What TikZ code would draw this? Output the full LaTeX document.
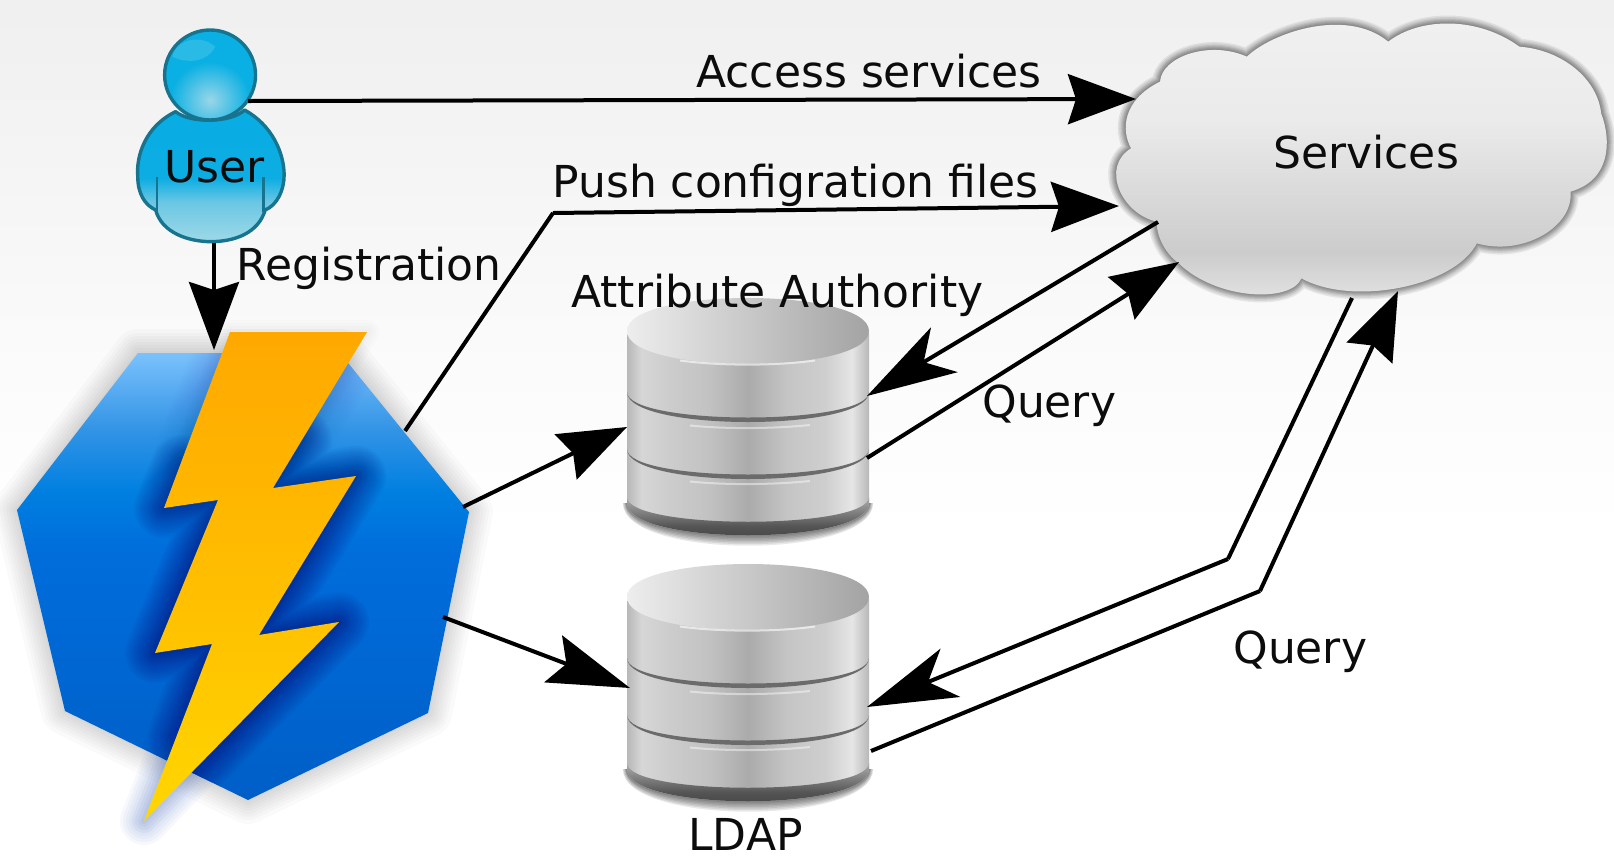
\documentclass[tikz,border=0pt]{standalone}
\usepackage{fontspec}
\setmainfont{DejaVu Sans}
\usetikzlibrary{arrows.meta}
\definecolor{txt}{HTML}{0C0C0C}
\definecolor{usr}{HTML}{17748F}
\definecolor{headblue}{rgb}{.04,.69,.89}
\definecolor{headlight}{rgb}{.6,.84,.91}
\definecolor{glowdark}{rgb}{0,.1,.55}
\definecolor{glowsoft}{rgb}{.1,.3,.75}
% TikZ maps the middle 25bp..75bp of a shading onto the bounding box of the path
\pgfdeclareverticalshading{bgsh}{100bp}{rgb(0bp)=(1,1,1); rgb(44bp)=(1,1,1); rgb(56bp)=(.98,.98,.98); rgb(67bp)=(.955,.955,.955); rgb(75bp)=(.94,.94,.94); rgb(100bp)=(.94,.94,.94)}
\pgfdeclareverticalshading{octsh}{100bp}{rgb(0bp)=(0,.37,.78); rgb(25bp)=(0,.37,.78); rgb(53bp)=(0,.43,.86); rgb(59.5bp)=(0,.5,.88); rgb(66.5bp)=(.2,.58,.9); rgb(75bp)=(.48,.76,.99); rgb(100bp)=(.48,.76,.99)}
\pgfdeclareverticalshading{boltsh}{100bp}{rgb(0bp)=(1,.84,0); rgb(25bp)=(1,.84,0); rgb(45bp)=(1,.76,0); rgb(75bp)=(1,.66,0); rgb(100bp)=(1,.66,0)}
\pgfdeclareverticalshading{cloudsh}{100bp}{rgb(0bp)=(.90,.90,.90); rgb(25bp)=(.90,.90,.90); rgb(34bp)=(.80,.80,.80); rgb(45bp)=(.86,.86,.86); rgb(56bp)=(.92,.92,.92); rgb(75bp)=(.945,.945,.945); rgb(100bp)=(.945,.945,.945)}
\pgfdeclareverticalshading{bodysh}{100bp}{rgb(0bp)=(.62,.85,.91); rgb(25bp)=(.62,.85,.91); rgb(40bp)=(.42,.78,.89); rgb(49bp)=(.05,.68,.89); rgb(75bp)=(.03,.68,.89); rgb(100bp)=(.03,.68,.89)}
\pgfdeclarehorizontalshading{cylsh}{100bp}{rgb(0bp)=(.72,.72,.72); rgb(25bp)=(.72,.72,.72); rgb(28bp)=(.84,.84,.84); rgb(34bp)=(.80,.80,.80); rgb(42bp)=(.76,.76,.76); rgb(50bp)=(.67,.67,.67); rgb(58bp)=(.77,.77,.77); rgb(66bp)=(.81,.81,.81); rgb(71.5bp)=(.90,.90,.90); rgb(75bp)=(.72,.72,.72); rgb(100bp)=(.72,.72,.72)}
\pgfdeclareverticalshading{basesh}{100bp}{rgb(0bp)=(.25,.25,.25); rgb(25bp)=(.25,.25,.25); rgb(45bp)=(.33,.33,.33); rgb(75bp)=(.68,.68,.68); rgb(100bp)=(.68,.68,.68)}
\def\octpath{(138,353) -- (340,353) -- (469,512) -- (428,713) -- (248,800) -- (65,711) -- (17,510) -- cycle}
\def\boltpath{(230,332) -- (367,332) -- (273,488) -- (356,476) -- (259,635) -- (339,622) -- (144,821) -- (212,644) -- (155,653) -- (218,500) -- (164,508) -- cycle}
\def\glowleft{(182,465) -- (164,508) -- (218,500) -- (155,653) -- (212,644) -- (178,735)}
\def\glowright{(302,440) -- (273,488) -- (356,476) -- (259,635) -- (339,622) -- (144,821)}
\def\glowtail{(180,728) -- (144,821) -- (205,758)}
\def\cloudpath{(150,445) .. controls (120,390) and (125,300) .. (235,245)
 .. controls (240,170) and (380,120) .. (490,170)
 .. controls (560,100) and (780,20) .. (905,125)
 .. controls (1000,50) and (1170,50) .. (1290,140)
 .. controls (1420,150) and (1520,240) .. (1530,340)
 .. controls (1560,420) and (1560,540) .. (1440,575)
 .. controls (1450,680) and (1300,770) .. (1165,730)
 .. controls (1100,860) and (800,920) .. (650,835)
 .. controls (620,910) and (400,900) .. (290,790)
 .. controls (250,760) and (225,710) .. (225,665)
 .. controls (120,640) and (60,500) .. (150,445) -- cycle}
\def\bodypath{(510,335) .. controls (420,380) and (395,470) .. (400,530)
 .. controls (400,580) and (420,615) .. (452,630)
 .. controls (470,700) and (550,725) .. (612,725)
 .. controls (680,725) and (750,700) .. (770,630)
 .. controls (805,615) and (825,570) .. (825,525)
 .. controls (825,460) and (790,375) .. (710,330)
 .. controls (670,370) and (550,370) .. (510,335) -- cycle}
\newcommand\dbcyl[1]{%
 \begin{scope}[yshift=#1*-0.5pt]
  \foreach \d in {1,...,7}
   \fill[black,fill opacity=.085] ({627-.6*\d},503) .. controls ({627-.6*\d},{546+2*\d}) and ({869+.6*\d},{546+2*\d}) .. ({869+.6*\d},503) -- cycle;
  \shade[shading=cylsh] (627,333) -- (627,503) .. controls (627,546) and (869,546) .. (869,503) -- (869,333) -- cycle;
  \shade[shading=basesh] (627,497) -- (627,503) .. controls (627,546) and (869,546) .. (869,503) -- (869,497) .. controls (869,530) and (627,530) .. (627,497) -- cycle;
  \fill[black!58] (627,392) .. controls (627,432) and (869,432) .. (869,392) .. controls (869,426) and (627,426) .. (627,392) -- cycle;
  \fill[black!58] (627,449) .. controls (627,489) and (869,489) .. (869,449) .. controls (869,483) and (627,483) .. (627,449) -- cycle;
  \draw[draw=white,draw opacity=.45,line width=1pt] (690,425.5) .. controls (725,429) and (770,429) .. (810,425);
  \draw[draw=white,draw opacity=.45,line width=1pt] (690,481.5) .. controls (725,485) and (770,485) .. (810,481);
  \shade[left color=black!7,right color=black!36] (627,331) .. controls (627,287) and (869,287) .. (869,331) .. controls (869,375) and (627,375) .. (627,331) -- cycle;
  \draw[draw=white,draw opacity=.6,line width=1pt] (680,360.5) .. controls (720,366) and (775,366) .. (815,360.5);
 \end{scope}}
\tikzset{
 port/.style={inner sep=0pt,minimum size=0pt,outer sep=0pt},
 lbl/.style={font=\fontsize{22pt}{26pt}\selectfont,anchor=base west,inner sep=0pt,text=txt},
 conn/.style={line width=2pt,draw=black,-{Stealth[length=34pt,width=25pt,inset=4pt]}},
 connmid/.style={line width=2pt,draw=black,-{Stealth[length=41pt,width=25pt,inset=7pt]}},
 connlong/.style={line width=2pt,draw=black,-{Stealth[length=45pt,width=26pt,inset=12pt]}}
}
\begin{document}
\begin{tikzpicture}[x=0.5pt,y=-0.5pt]
\useasboundingbox (0,0) rectangle (1614,858);
\shade[shading=bgsh] (0,0) rectangle (1614,858);
% body shadow
\foreach \w in {2,5,8,11,14,17,20,24}
 \draw[line width=\w pt,draw=black,draw opacity=.02,line join=round] \octpath;
\shade[shading=octsh] \octpath;
% cloud
\begin{scope}[shift={(1080,0)},xscale=0.3406,yscale=0.3333]
 \foreach \w in {1,2,3,4,5,6.5,8}
  \draw[line width=\w pt,draw=black,draw opacity=.075,line join=round] \cloudpath;
 \shade[shading=cloudsh] \cloudpath;
\end{scope}
% databases
\dbcyl{0}
\dbcyl{266}
% user
\begin{scope}[xscale=0.3444,yscale=0.3333]
 \shade[shading=bodysh] \bodypath;
 \draw[draw=usr,line width=1.7pt,line join=round] \bodypath;
 \draw[draw=usr,line width=1.2pt] (455,530) -- (455,635);
 \draw[draw=usr,line width=1.2pt] (765,530) -- (765,635);
 \begin{scope}
  \clip (610,225) circle [x radius=132,y radius=135];
  \fill[headblue] (610,225) circle [x radius=132,y radius=135];
  \shade[inner color=headlight,outer color=headblue] (610,300) circle [x radius=115,y radius=115];
  \fill[white,opacity=.13] (500,170) .. controls (540,190) and (600,190) .. (625,140) .. controls (580,100) and (510,120) .. (500,170) -- cycle;
 \end{scope}
 \draw[draw=usr,line width=1.7pt] (610,225) circle [x radius=132,y radius=135];
\end{scope}
% ports
\node[port] (userS) at (214,243) {};
\node[port] (octN) at (214,350) {};
\node[port] (userE) at (248,101) {};
\node[port] (cloudA) at (1136,99) {};
\node[port] (octP) at (405,431) {};
\node[port] (pushBend) at (553,213) {};
\node[port] (cloudP) at (1119,206) {};
\node[port] (octAA) at (463,507) {};
\node[port] (aaW) at (627,427) {};
\node[port] (octL) at (443,617) {};
\node[port] (ldapW) at (630,688) {};
\node[port] (cloudOut) at (1158,222) {};
\node[port] (aaE) at (867,396) {};
\node[port] (aaOut) at (867,458) {};
\node[port] (cloudIn) at (1179,262) {};
\node[port] (cloudS) at (1352,298) {};
\node[port] (qBendA) at (1228,559) {};
\node[port] (ldapE) at (867,707) {};
\node[port] (ldapOut) at (871,751) {};
\node[port] (qBendB) at (1260,591) {};
\node[port] (cloudSin) at (1398,291) {};
% connectors
\draw[conn] (userS) -- (octN);
\draw[conn] (userE) -- (cloudA);
\draw[conn] (octP) -- (pushBend) -- (cloudP);
\draw[conn] (octAA) -- (aaW);
\draw[connmid] (octL) -- (ldapW);
\draw[connlong] (cloudOut) -- (aaE);
\draw[conn] (aaOut) -- (cloudIn);
\draw[connlong] (cloudS) -- (qBendA) -- (ldapE);
\draw[conn] (ldapOut) -- (qBendB) -- (cloudSin);
% bolt
\begin{scope}
 \clip \octpath;
 \foreach \w in {2,4,...,30} {
  \draw[line width=\w pt,draw=glowdark,draw opacity=.04,line join=round,line cap=round] \glowleft;
  \draw[line width=\w pt,draw=glowdark,draw opacity=.04,line join=round,line cap=round] \glowright;
  \draw[line width=\w pt,draw=glowdark,draw opacity=.008,line join=round] \boltpath;
 }
\end{scope}
\foreach \w in {3,6,9,12}
 \draw[line width=\w pt,draw=black,draw opacity=.012,line join=round] \boltpath;
\foreach \w in {3,6,...,24}
 \draw[line width=\w pt,draw=glowsoft,draw opacity=.035,line join=round,line cap=round] \glowtail;
\shade[shading=boltsh] \boltpath;
% labels
\node[lbl] (lblUser) at (164,182) {User};
\node[lbl] (lblReg) at (236,280) {Registration};
\node[lbl] (lblAccess) at (696,87) {Access services};
\node[lbl] (lblPush) at (552,197) {Push configration files};
\node[lbl] (lblServices) at (1273,168) {Services};
\node[lbl] (lblAA) at (571,307) {Attribute Authority};
\node[lbl] (lblQ1) at (982,417) {Query};
\node[lbl] (lblQ2) at (1233,663) {Query};
\node[lbl] (lblLDAP) at (688,850) {LDAP};
\end{tikzpicture}
\end{document}
